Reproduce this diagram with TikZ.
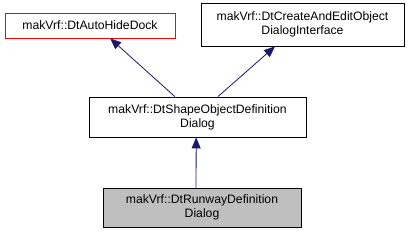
\documentclass[tikz,border=0pt]{standalone}
\usepackage{fontspec}
\setmainfont{Liberation Sans}
\usetikzlibrary{arrows.meta,calc}
\definecolor{edgeblue}{HTML}{191970}
\definecolor{boxgray}{HTML}{BFBFBF}
\tikzset{
  cls/.style={draw=black, line width=0.8pt, fill=white, align=center, inner sep=0pt, font=\fontsize{12.2}{14}\selectfont},
  inh/.style={draw=edgeblue, line width=0.8pt, -{Triangle[length=11pt,width=9pt,fill=edgeblue]}},
}
\begin{document}
\begin{tikzpicture}[x=1pt,y=1pt]
\useasboundingbox (0,0) rectangle (415,235);
\node[cls, draw=red, minimum width=170pt, minimum height=25pt] (a) at (90,209.5) {makVrf::DtAutoHideDock};
\node[cls, minimum width=203pt, minimum height=43pt] (b) at (302.5,210.5) {makVrf::DtCreateAndEditObject\\DialogInterface};
\node[cls, minimum width=217pt, minimum height=40pt] (c) at (197.5,118) {makVrf::DtShapeObjectDefinition\\Dialog};
\node[cls, fill=boxgray, minimum width=198pt, minimum height=39pt] (d) at (202,27.5) {makVrf::DtRunwayDefinition\\Dialog};
\draw[inh] ($(d.north west)!0.47!(d.north east)$) -- ($(c.south west)!0.494!(c.south east)$);
\draw[inh] ($(c.north west)!0.396!(c.north east)$) -- ($(a.south west)!0.618!(a.south east)$);
\draw[inh] ($(c.north west)!0.594!(c.north east)$) -- ($(b.south west)!0.365!(b.south east)$);
\end{tikzpicture}
\end{document}
